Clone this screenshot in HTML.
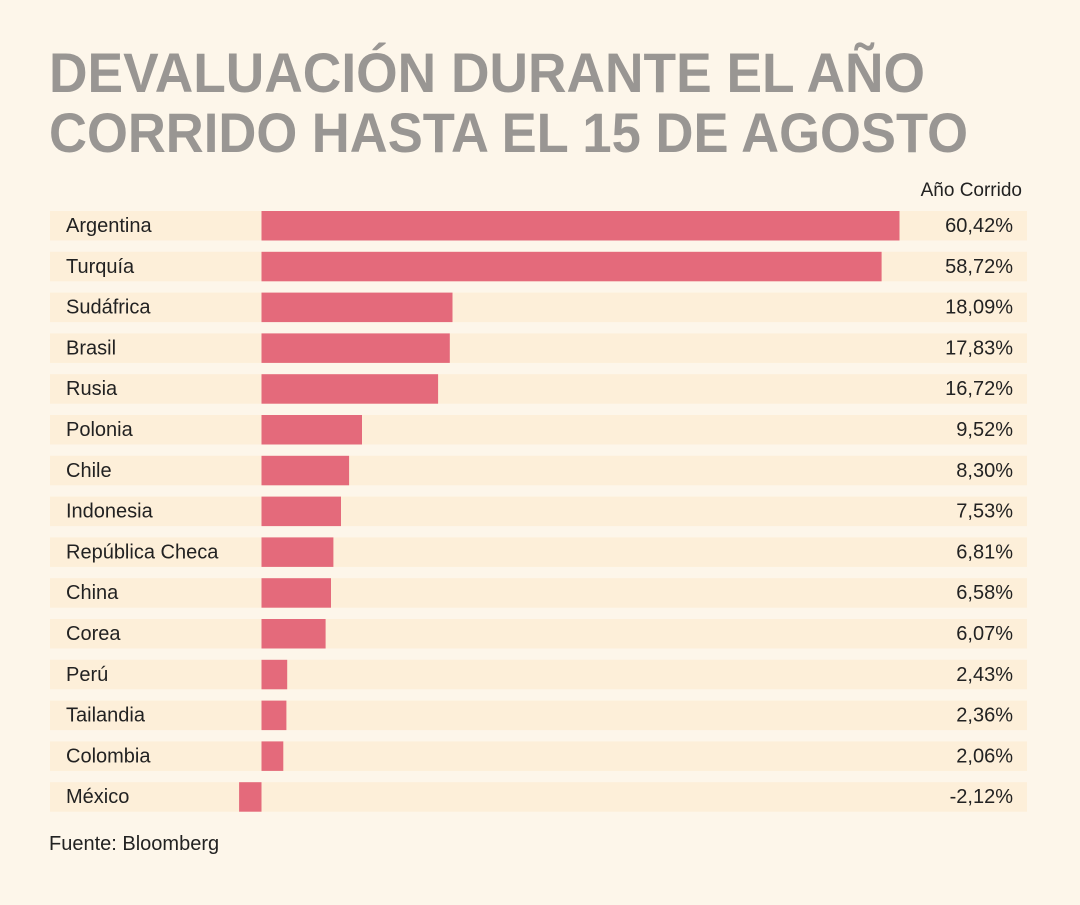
<!DOCTYPE html>
<html><head><meta charset="utf-8"><style>
html,body{margin:0;padding:0;background:#fdf6ea;}
</style></head><body>
<svg width="1080" height="900" xmlns="http://www.w3.org/2000/svg" font-family="Liberation Sans, sans-serif">
<rect width="1080" height="900" fill="#fdf6ea"/>
<text x="49" y="92" font-size="56" font-weight="bold" fill="#999693" textLength="876" lengthAdjust="spacingAndGlyphs">DEVALUACIÓN DURANTE EL AÑO</text>
<text x="49" y="152" font-size="56" font-weight="bold" fill="#999693" textLength="919" lengthAdjust="spacingAndGlyphs">CORRIDO HASTA EL 15 DE AGOSTO</text>
<text x="1022" y="196" font-size="19" fill="#222" text-anchor="end">Año Corrido</text>
<g fill="#fdefd9">
<rect x="50" y="211" width="977" height="29.5"/>
<rect x="50" y="251.8" width="977" height="29.5"/>
<rect x="50" y="292.6" width="977" height="29.5"/>
<rect x="50" y="333.4" width="977" height="29.5"/>
<rect x="50" y="374.2" width="977" height="29.5"/>
<rect x="50" y="415" width="977" height="29.5"/>
<rect x="50" y="455.8" width="977" height="29.5"/>
<rect x="50" y="496.6" width="977" height="29.5"/>
<rect x="50" y="537.4" width="977" height="29.5"/>
<rect x="50" y="578.2" width="977" height="29.5"/>
<rect x="50" y="619" width="977" height="29.5"/>
<rect x="50" y="659.8" width="977" height="29.5"/>
<rect x="50" y="700.6" width="977" height="29.5"/>
<rect x="50" y="741.4" width="977" height="29.5"/>
<rect x="50" y="782.2" width="977" height="29.5"/>
</g>
<g fill="#e46a7b">
<rect x="261.5" y="211" width="638" height="29.5"/>
<rect x="261.5" y="251.8" width="620.1" height="29.5"/>
<rect x="261.5" y="292.6" width="191" height="29.5"/>
<rect x="261.5" y="333.4" width="188.3" height="29.5"/>
<rect x="261.5" y="374.2" width="176.6" height="29.5"/>
<rect x="261.5" y="415" width="100.5" height="29.5"/>
<rect x="261.5" y="455.8" width="87.6" height="29.5"/>
<rect x="261.5" y="496.6" width="79.5" height="29.5"/>
<rect x="261.5" y="537.4" width="71.9" height="29.5"/>
<rect x="261.5" y="578.2" width="69.5" height="29.5"/>
<rect x="261.5" y="619" width="64.1" height="29.5"/>
<rect x="261.5" y="659.8" width="25.7" height="29.5"/>
<rect x="261.5" y="700.6" width="24.9" height="29.5"/>
<rect x="261.5" y="741.4" width="21.8" height="29.5"/>
<rect x="239.1" y="782.2" width="22.4" height="29.5"/>
</g>
<g font-size="20" fill="#222">
<text x="66" y="232">Argentina</text>
<text x="66" y="272.8">Turquía</text>
<text x="66" y="313.6">Sudáfrica</text>
<text x="66" y="354.4">Brasil</text>
<text x="66" y="395.2">Rusia</text>
<text x="66" y="436">Polonia</text>
<text x="66" y="476.8">Chile</text>
<text x="66" y="517.6">Indonesia</text>
<text x="66" y="558.4">República Checa</text>
<text x="66" y="599.2">China</text>
<text x="66" y="640">Corea</text>
<text x="66" y="680.8">Perú</text>
<text x="66" y="721.6">Tailandia</text>
<text x="66" y="762.4">Colombia</text>
<text x="66" y="803.2">México</text>
</g>
<g font-size="20" fill="#222" text-anchor="end">
<text x="1013" y="232">60,42%</text>
<text x="1013" y="272.8">58,72%</text>
<text x="1013" y="313.6">18,09%</text>
<text x="1013" y="354.4">17,83%</text>
<text x="1013" y="395.2">16,72%</text>
<text x="1013" y="436">9,52%</text>
<text x="1013" y="476.8">8,30%</text>
<text x="1013" y="517.6">7,53%</text>
<text x="1013" y="558.4">6,81%</text>
<text x="1013" y="599.2">6,58%</text>
<text x="1013" y="640">6,07%</text>
<text x="1013" y="680.8">2,43%</text>
<text x="1013" y="721.6">2,36%</text>
<text x="1013" y="762.4">2,06%</text>
<text x="1013" y="803.2">-2,12%</text>
</g>
<text x="49" y="850" font-size="20" fill="#222">Fuente: Bloomberg</text>
</svg>
</body></html>
